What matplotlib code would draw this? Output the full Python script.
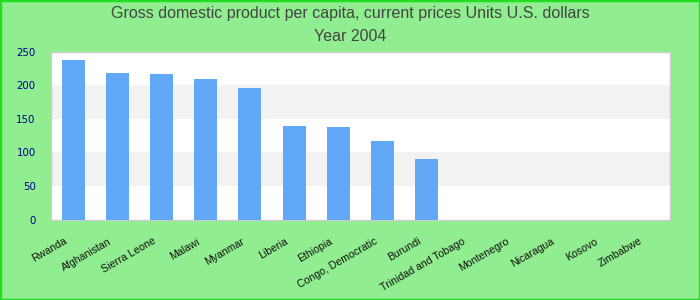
import matplotlib
matplotlib.use("Agg")
import matplotlib.pyplot as plt
from matplotlib.patches import Rectangle
from matplotlib.transforms import ScaledTranslation

categories = ["Rwanda", "Afghanistan", "Sierra Leone", "Malawi", "Myanmar", "Liberia",
              "Ethiopia", "Congo, Democratic", "Burundi", "Trinidad and Tobago",
              "Montenegro", "Nicaragua", "Kosovo", "Zimbabwe"]
values = [237.4, 218.0, 216.5, 209.0, 195.7, 139.0, 137.6, 116.8, 90.0,
          None, None, None, None, None]
yticks = [0, 50, 100, 150, 200, 250]
title = "Gross domestic product per capita, current prices Units U.S. dollars\nYear 2004"

fig = plt.figure(figsize=(7, 3), dpi=100, facecolor="#90ee90")
fig.patches.append(Rectangle((0, 0), 1, 1, transform=fig.transFigure, fill=False,
                             edgecolor="#22dd22", linewidth=2.5, zorder=10))
ax = fig.add_axes([51/700, 1-219.5/300, 619/700, 168/300])
ax.set_facecolor("white")

x = list(range(len(categories)))
ax.bar([i for i, v in zip(x, values) if v is not None],
       [v for v in values if v is not None], width=0.52, color="#61a9f6", zorder=3)

for lo in (50, 150):
    ax.axhspan(lo, lo + 50, color="#f2f2f2", zorder=1, linewidth=0)

ax.set_xlim(-0.5, len(categories) - 0.5)
ax.set_ylim(0, 250)
ax.set_yticks(yticks)
ax.set_yticklabels([str(t) for t in yticks], color="#00008b", fontsize=7.4)
ax.set_xticks(x)
ax.set_xticklabels(categories, rotation=30, ha="right", va="top", rotation_mode="anchor",
                   fontsize=7.6, family="Liberation Sans", color="#111111")
ax.tick_params(axis="both", length=0)
ax.tick_params(axis="y", pad=11)
ax.tick_params(axis="x", pad=12)
off = ScaledTranslation(-9/100, 0, fig.dpi_scale_trans)
for lab in ax.get_xticklabels():
    lab.set_transform(lab.get_transform() + off)
for s in ax.spines.values():
    s.set_color("#cccccc")
    s.set_linewidth(1)

fig.text(0.5, 1 - 25/300, title, ha="center", va="center", fontsize=11.5,
         family="Liberation Sans", color="#444444", linespacing=1.6)

fig.savefig("out.png", dpi=100, facecolor=fig.get_facecolor())
